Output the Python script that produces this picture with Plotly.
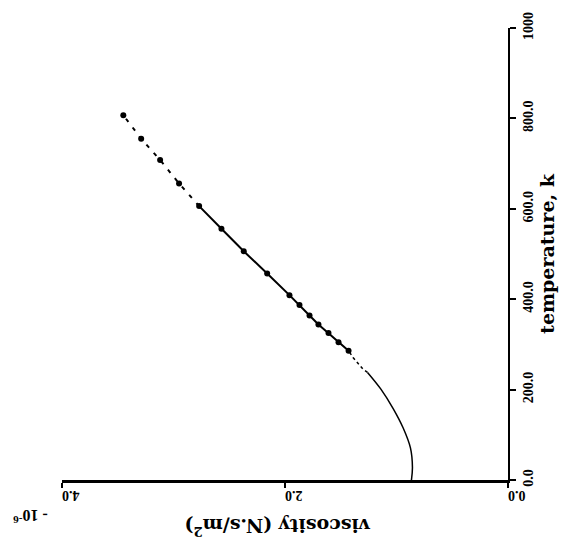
import plotly.graph_objects as go

# Data read from the (rotated) reference chart
# temperature in K, viscosity in 1e-6 N.s/m2
temp_curve = [0, 28, 71, 115, 158, 201, 238]
visc_curve = [0.866, 0.857, 0.875, 0.94, 1.03, 1.14, 1.26]

temp_dash_low = [238, 245, 271, 286]
visc_dash_low = [1.26, 1.30, 1.39, 1.43]

temp_pts = [286, 305, 325, 344, 364, 387, 409, 457, 506, 556, 606, 656, 708, 755, 807]
visc_pts = [1.43, 1.52, 1.61, 1.70, 1.78, 1.87, 1.96, 2.16, 2.37, 2.57, 2.77, 2.95, 3.12, 3.29, 3.45]

temp_ticks = [0, 200, 400, 600, 800, 1000]
temp_ticktext = ["0.0", "200.0", "400.0", "600.0", "800.0", "1000"]
visc_ticks = [0, 2, 4]
visc_ticktext = ["0.0", "2.0", "4.0"]

FONT = "Liberation Serif"
TFONT = "DejaVu Serif"

solid_t = [t for t in temp_pts if t <= 606]
solid_v = visc_pts[:len(solid_t)]
upper_t = [t for t in temp_pts if t >= 606]
upper_v = visc_pts[len(solid_t) - 1:]

fig = go.Figure()
fig.add_trace(go.Scatter(x=visc_curve, y=temp_curve, mode="lines",
                         line=dict(color="black", width=1.5, shape="spline")))
fig.add_trace(go.Scatter(x=visc_dash_low, y=temp_dash_low, mode="lines",
                         line=dict(color="black", width=1.5, dash="3px,3px")))
fig.add_trace(go.Scatter(x=solid_v, y=solid_t, mode="lines",
                         line=dict(color="black", width=2)))
fig.add_trace(go.Scatter(x=upper_v, y=upper_t, mode="lines",
                         line=dict(color="black", width=2, dash="4px,7px")))
fig.add_trace(go.Scatter(x=visc_pts, y=temp_pts, mode="markers",
                         marker=dict(color="black", size=6, symbol="circle")))

fig.update_layout(
    width=567, height=550,
    margin=dict(l=62, r=59, t=18, b=70),
    paper_bgcolor="white", plot_bgcolor="white",
    showlegend=False,
    font=dict(family=FONT, color="black", size=14, weight="bold"),
    xaxis=dict(range=[4, 0], showgrid=False, zeroline=False,
               showline=True, linecolor="black", linewidth=3,
               ticks="outside", ticklen=5, tickwidth=1.5, tickcolor="black",
               tickvals=visc_ticks, ticktext=visc_ticktext, tickangle=180,
               tickfont=dict(family=FONT, size=14, weight="bold")),
    yaxis=dict(range=[0, 1000], side="right", showgrid=False, zeroline=False,
               showline=True, linecolor="black", linewidth=2,
               ticks="outside", ticklen=6, tickwidth=1.5, tickcolor="black",
               tickvals=temp_ticks, ticktext=temp_ticktext, tickangle=-90,
               tickfont=dict(family=FONT, size=14, weight="bold"),
               title=dict(text="temperature, k", standoff=5,
                          font=dict(family=TFONT, size=19, weight="bold"))),
)

fig.add_annotation(text="viscosity (N.s/m<sup>2</sup>)", textangle=180,
                   xref="paper", yref="paper", x=0.484, y=-0.104,
                   xanchor="center", yanchor="middle",
                   showarrow=False,
                   font=dict(family=TFONT, size=19, weight="bold"))
fig.add_annotation(text="- 10<sup>-6</sup>", textangle=180,
                   xref="paper", yref="paper", x=-0.072, y=-0.08,
                   xanchor="center", yanchor="middle",
                   showarrow=False,
                   font=dict(family=FONT, size=16, weight="bold"))

fig.write_html("out.html")
